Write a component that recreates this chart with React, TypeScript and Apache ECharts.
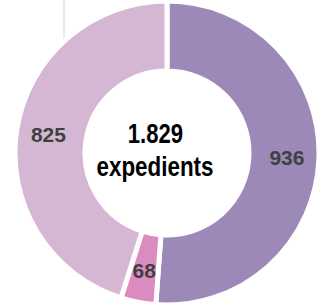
import React, { useEffect, useRef } from "react";
import * as echarts from "echarts";

const categories = ["A", "B", "C"];
const values = [936, 68, 825];
const colors = ["#9c89b8", "#dc8bc0", "#d5b7d3"];
const totalLabel = "1.829";
const unitLabel = "expedients";

const FONT = "'Liberation Sans', Arial, sans-serif";

export default function App() {
  const ref = useRef<HTMLDivElement>(null);
  useEffect(() => {
    document.body.style.margin = "0";
    const chart = echarts.init(ref.current!, null, { renderer: "svg" });
    chart.setOption({
      animation: false,
      backgroundColor: "#ffffff",
      graphic: [
        {
          type: "line",
          shape: { x1: 64, y1: 0, x2: 64, y2: 40 },
          style: { stroke: "#d4d4d4", lineWidth: 1 },
          z: 0,
        },
        {
          type: "text",
          x: 155.5,
          y: 120,
          scaleX: 0.82,
          style: {
            text: totalLabel,
            x: 0,
            y: 0,
            textAlign: "center",
            textVerticalAlign: "top",
            font: "bold 27px " + FONT,
            fill: "#000000",
          },
          z: 10,
        },
        {
          type: "text",
          x: 155,
          y: 153,
          scaleX: 0.83,
          style: {
            text: unitLabel,
            x: 0,
            y: 0,
            textAlign: "center",
            textVerticalAlign: "top",
            font: "bold 27px " + FONT,
            fill: "#000000",
          },
          z: 10,
        },
      ],
      series: [
        {
          type: "pie",
          center: [167, 153],
          radius: [82, 152],
          startAngle: 90,
          clockwise: true,
          avoidLabelOverlap: false,
          itemStyle: { borderColor: "#ffffff", borderWidth: 5 },
          label: {
            show: true,
            position: "inside",
            formatter: "{c}",
            color: "#404040",
            fontWeight: "bold",
            fontSize: 21,
            fontFamily: FONT,
          },
          labelLine: { show: false },
          emphasis: { disabled: true },
          data: categories.map((c, i) => ({
            name: c,
            value: values[i],
            itemStyle: { color: colors[i] },
          })),
        },
      ],
    });
    return () => chart.dispose();
  }, []);
  return <div ref={ref} style={{ width: 327, height: 303 }} />;
}
